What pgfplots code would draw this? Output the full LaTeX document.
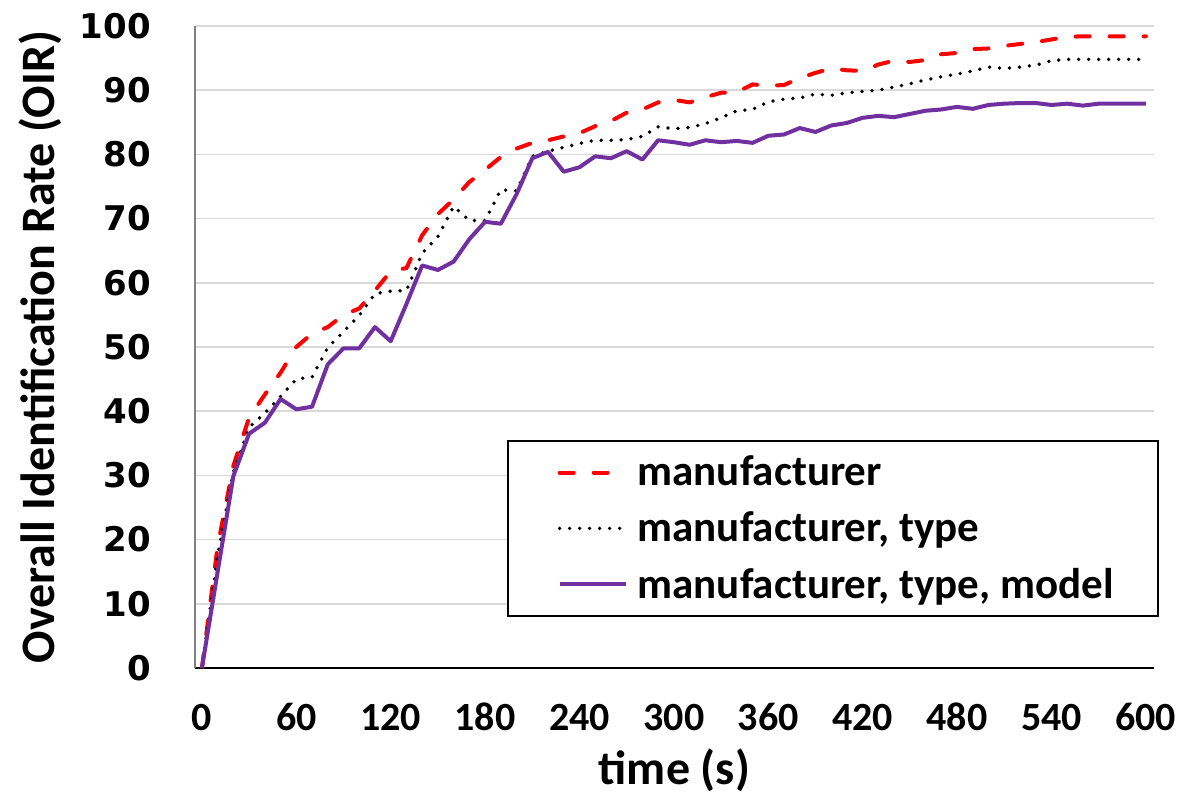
\documentclass[border=0pt]{standalone}
\usepackage{pgfplots}
\pgfplotsset{compat=1.18}
\usepackage{fontspec}
\setmainfont{Carlito}
\newfontfamily\dejavu{DejaVu Sans}
\definecolor{exred}{RGB}{255,0,0}
\definecolor{expurple}{RGB}{112,48,160}
\definecolor{gridgray}{RGB}{217,217,217}
\begin{document}
\begin{tikzpicture}
\begin{axis}[
  name=ax,
  scale only axis,
  width=479.5pt, height=321pt,
  xmin=-4.4, xmax=605.2, ymin=0, ymax=100,
  xtick={0,60,...,600}, ytick={0,10,...,100},
  axis lines*=left,
  x axis line style={black,line width=1pt},
  y axis line style={gray,line width=0.6pt},
  major tick length=0pt,
  ymajorgrids, major grid style={gridgray,line width=0.85pt},
  /pgf/number format/assume math mode=true,
  xticklabel style={font=\bfseries\fontsize{20}{24}\selectfont, anchor=base, yshift=-31pt},
  yticklabel style={font=\dejavu\bfseries\fontsize{17}{20}\selectfont, anchor=east, xshift=-18.5pt},
  xlabel={time (s)},
  ylabel={Overall Identification Rate (OIR)},
  xlabel style={font=\bfseries\fontsize{24}{28}\selectfont, at={(axis description cs:0.5,-0.159)}, anchor=center},
  ylabel style={font=\bfseries\fontsize{24}{28}\selectfont, at={(axis description cs:-0.1616,0.5)}, anchor=center},
  legend style={at={(axis description cs:0.325,0.355)}, anchor=north west, draw=black, line width=1pt,
    font=\bfseries\fontsize{21.5}{25}\selectfont, inner xsep=20pt, inner ysep=5.5pt, row sep=7.5pt},
  legend cell align=left,
  legend image code/.code={\path (0pt,0pt) (41pt,0pt); \draw[#1] (5pt,0pt) -- (38pt,0pt);},
]
\addplot[exred, line width=2pt, dash pattern=on 7pt off 10pt, line cap=round] coordinates {
(0,0) (10,19) (20,31.5) (30,39) (40,42.6) (50,46) (60,50) (70,52.1) (80,53.1) (90,55)
(100,56) (110,58.8) (120,61.8) (130,62.3) (140,67.4) (150,70.7) (160,73) (170,75.7) (180,77.6) (190,79.6)
(200,80.9) (210,81.8) (220,82.2) (230,82.8) (240,83.3) (250,84.4) (260,85.2) (270,86.5) (280,87.0) (290,88.1)
(300,88.5) (310,88.1) (320,88.9) (330,89.6) (340,89.7) (350,90.9) (360,90.7) (370,90.8) (380,91.9) (390,92.7)
(400,93.4) (410,93.1) (420,93.0) (430,94.0) (440,94.6) (450,94.4) (460,94.7) (470,95.6) (480,95.8) (490,96.4)
(500,96.5) (510,96.9) (520,97.2) (530,97.5) (540,97.9) (550,98.3) (560,98.4) (570,98.4) (580,98.4) (590,98.4) (600,98.4)
};
\addlegendentry{manufacturer}
\addplot[black, line width=1.9pt, dash pattern=on 0pt off 5pt, line cap=round] coordinates {
(0,0) (10,17.5) (20,30.6) (30,37.5) (40,39.7) (50,42.3) (60,45.0) (70,45.3) (80,49.9) (90,52.4)
(100,54.9) (110,58.3) (120,58.7) (130,58.8) (140,64.6) (150,67.2) (160,71.9) (170,69.7) (180,69.7) (190,74.5)
(200,74.3) (210,79.7) (220,80.5) (230,81.1) (240,81.7) (250,82.2) (260,82.2) (270,82.3) (280,82.8) (290,84.3)
(300,84.0) (310,84.2) (320,84.8) (330,85.7) (340,86.8) (350,87.0) (360,88.2) (370,88.6) (380,88.8) (390,89.4)
(400,89.2) (410,89.6) (420,89.8) (430,90.0) (440,90.5) (450,91.0) (460,91.6) (470,92.1) (480,92.5) (490,93.0)
(500,93.6) (510,93.4) (520,93.6) (530,93.9) (540,94.6) (550,94.8) (560,94.8) (570,94.8) (580,94.8) (590,94.8) (600,94.8)
};
\addlegendentry{manufacturer, type}
\addplot[expurple, line width=2pt, line join=round] coordinates {
(0,0) (10,15) (20,29.9) (30,36.5) (40,38.2) (50,41.9) (60,40.3) (70,40.7) (80,47.3) (90,49.8)
(100,49.8) (110,53.1) (120,50.9) (130,56.7) (140,62.7) (150,62.0) (160,63.3) (170,66.8) (180,69.5) (190,69.2)
(200,73.8) (210,79.4) (220,80.4) (230,77.3) (240,78.0) (250,79.7) (260,79.4) (270,80.5) (280,79.2) (290,82.2)
(300,81.9) (310,81.5) (320,82.2) (330,81.9) (340,82.1) (350,81.8) (360,82.9) (370,83.1) (380,84.1) (390,83.5)
(400,84.5) (410,84.9) (420,85.7) (430,86.0) (440,85.8) (450,86.3) (460,86.8) (470,87.0) (480,87.4) (490,87.1)
(500,87.7) (510,87.9) (520,88.0) (530,88.0) (540,87.7) (550,87.9) (560,87.6) (570,87.9) (580,87.9) (590,87.9) (600,87.9)
};
\addlegendentry{manufacturer, type, model}
\end{axis}
\pgfresetboundingbox
\path ([xshift=-97.5pt,yshift=-70.5pt]ax.south west) rectangle ([xshift=18.5pt,yshift=13pt]ax.north east);
\end{tikzpicture}
\end{document}
